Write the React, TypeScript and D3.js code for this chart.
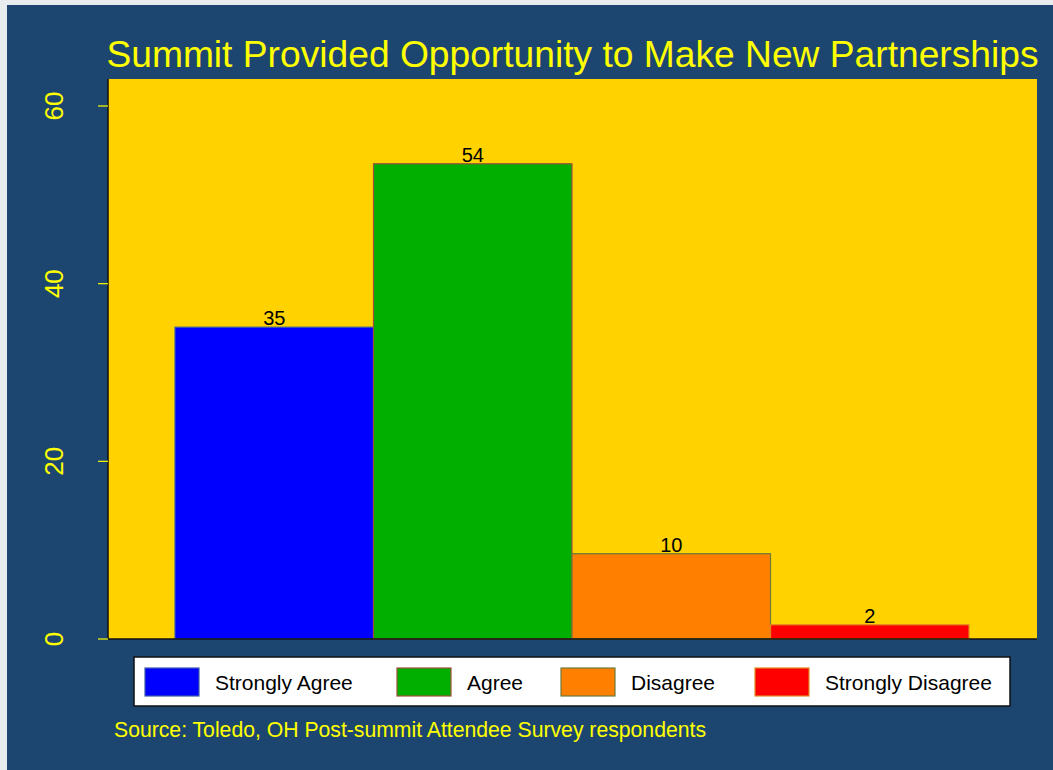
import React from "react";
import * as d3 from "d3";

const categories = ["Strongly Agree", "Agree", "Disagree", "Strongly Disagree"];
const values = [35.1, 53.5, 9.6, 1.6];
const barLabels = ["35", "54", "10", "2"];
const yTicks = [0, 20, 40, 60];
const fills = ["#0000ff", "#00af00", "#ff8000", "#ff0000"];
const outlines = ["#3a5aa8", "#a0503a", "#6a7a3a", "#e08a20"];
const title = "Summit Provided Opportunity to Make New Partnerships";
const source = "Source: Toledo, OH Post-summit Attendee Survey respondents";

const W = 1053;
const H = 770;
const BG = "#1c4670";
const PLOT_BG = "#ffd200";
const YELLOW = "#ffff00";
const FONT = "'Liberation Sans', Arial, Helvetica, sans-serif";

const plotLeft = 108;
const plotRight = 1037;
const plotTop = 79;
const plotBottom = 639;
const legendCols = [145, 397, 561, 755];

export default function App() {
  const y = d3.scaleLinear().domain([0, 60]).range([plotBottom, 106]);
  const x = d3.scaleBand<string>().domain(categories).range([175, 969]).padding(0);

  return (
    <svg
      width={W}
      height={H}
      style={{ position: "absolute", left: 0, top: 0, display: "block" }}
      fontFamily={FONT}
    >
      <rect x={0} y={0} width={W} height={H} fill="#e8ecef" />
      <rect x={7} y={5} width={W - 7} height={H - 5} fill={BG} />
      <text
        x={(plotLeft + plotRight) / 2}
        y={67}
        textAnchor="middle"
        fill={YELLOW}
        fontSize={37.2}
      >
        {title}
      </text>
      <rect
        x={plotLeft}
        y={plotTop}
        width={plotRight - plotLeft}
        height={plotBottom - plotTop}
        fill={PLOT_BG}
      />
      {categories.map((c, i) => (
        <rect
          key={c}
          x={x(c)!}
          y={y(values[i])}
          width={x.bandwidth()}
          height={plotBottom - y(values[i])}
          fill={fills[i]}
          stroke={outlines[i]}
          strokeWidth={1.2}
        />
      ))}
      {categories.map((c, i) => (
        <text
          key={c + "-lbl"}
          x={x(c)! + x.bandwidth() / 2}
          y={y(values[i]) - 2}
          textAnchor="middle"
          fontSize={20}
          fill="#000"
        >
          {barLabels[i]}
        </text>
      ))}
      <line x1={plotLeft} x2={plotLeft} y1={plotTop} y2={plotBottom} stroke="#111" strokeWidth={1.5} />
      <line x1={plotLeft} x2={plotRight} y1={plotBottom} y2={plotBottom} stroke="#111" strokeWidth={1.5} />
      {yTicks.map((t) => (
        <g key={t}>
          <line x1={98} x2={plotLeft} y1={y(t)} y2={y(t)} stroke={YELLOW} strokeWidth={1.2} />
          <text
            transform={`translate(63,${y(t)}) rotate(-90)`}
            textAnchor="middle"
            fill={YELLOW}
            fontSize={26}
          >
            {t}
          </text>
        </g>
      ))}
      <rect x={134} y={657} width={876} height={49} fill="#fff" stroke="#111" strokeWidth={1.5} />
      {categories.map((c, i) => (
        <g key={c + "-leg"}>
          <rect
            x={legendCols[i]}
            y={668}
            width={54}
            height={28}
            fill={fills[i]}
            stroke={outlines[i]}
            strokeWidth={1.2}
          />
          <text x={legendCols[i] + 70} y={690} fontSize={21} fill="#000">
            {c}
          </text>
        </g>
      ))}
      <text x={114} y={737} fill={YELLOW} fontSize={21.2}>
        {source}
      </text>
    </svg>
  );
}
